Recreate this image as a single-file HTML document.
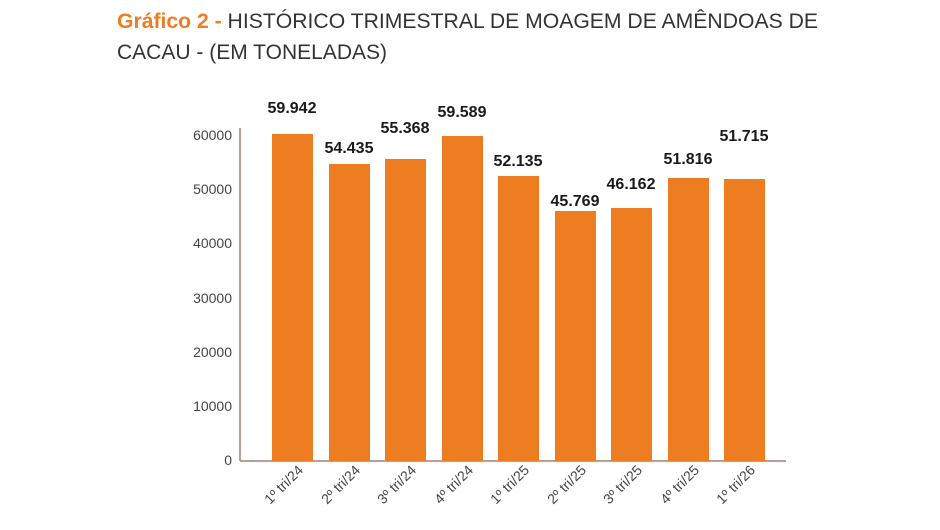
<!DOCTYPE html>
<html><head><meta charset="utf-8"><style>
html,body{margin:0;padding:0;background:#fff;}
svg{display:block;font-family:"Liberation Sans",sans-serif;}
</style></head><body>
<svg width="940" height="530" viewBox="0 0 940 530" xmlns="http://www.w3.org/2000/svg">
<text x="117" y="28" font-size="21" textLength="701" lengthAdjust="spacingAndGlyphs" fill="#333"><tspan fill="#ee7d22" font-weight="bold">Gráfico 2 - </tspan>HISTÓRICO TRIMESTRAL DE MOAGEM DE AMÊNDOAS DE</text>
<text x="117" y="59" font-size="21" textLength="270" lengthAdjust="spacingAndGlyphs" fill="#333">CACAU - (EM TONELADAS)</text>
<g font-size="14" fill="#444" text-anchor="end">
<text x="232" y="140">60000</text>
<text x="232" y="194">50000</text>
<text x="232" y="248">40000</text>
<text x="232" y="303">30000</text>
<text x="232" y="357">20000</text>
<text x="232" y="411">10000</text>
<text x="232" y="465">0</text>
</g>
<line x1="240" y1="128" x2="240" y2="461" stroke="#a08070" stroke-width="1.5"/>
<line x1="240" y1="461" x2="786" y2="461" stroke="#a08070" stroke-width="1.5"/>
<g fill="#ee7d22">
<rect x="272" y="134" width="41" height="327"/>
<rect x="329" y="164" width="41" height="297"/>
<rect x="385" y="159" width="41" height="302"/>
<rect x="442" y="136" width="41" height="325"/>
<rect x="498" y="176" width="41" height="285"/>
<rect x="555" y="211" width="41" height="250"/>
<rect x="611" y="208" width="41" height="253"/>
<rect x="668" y="178" width="41" height="283"/>
<rect x="724" y="179" width="41" height="282"/>
</g>
<g font-size="16" font-weight="bold" fill="#1a1a1a" text-anchor="middle">
<text x="292" y="113">59.942</text>
<text x="349" y="153">54.435</text>
<text x="405" y="133">55.368</text>
<text x="462" y="117">59.589</text>
<text x="518" y="166">52.135</text>
<text x="575" y="206">45.769</text>
<text x="631" y="189">46.162</text>
<text x="688" y="164">51.816</text>
<text x="744" y="141">51.715</text>
</g>
<g font-size="14" fill="#444" text-anchor="end">
<text transform="translate(304,471) rotate(-45)">1º tri/24</text>
<text transform="translate(361,471) rotate(-45)">2º tri/24</text>
<text transform="translate(417,471) rotate(-45)">3º tri/24</text>
<text transform="translate(474,471) rotate(-45)">4º tri/24</text>
<text transform="translate(530,471) rotate(-45)">1º tri/25</text>
<text transform="translate(587,471) rotate(-45)">2º tri/25</text>
<text transform="translate(643,471) rotate(-45)">3º tri/25</text>
<text transform="translate(700,471) rotate(-45)">4º tri/25</text>
<text transform="translate(756,471) rotate(-45)">1º tri/26</text>
</g>
</svg>
</body></html>
